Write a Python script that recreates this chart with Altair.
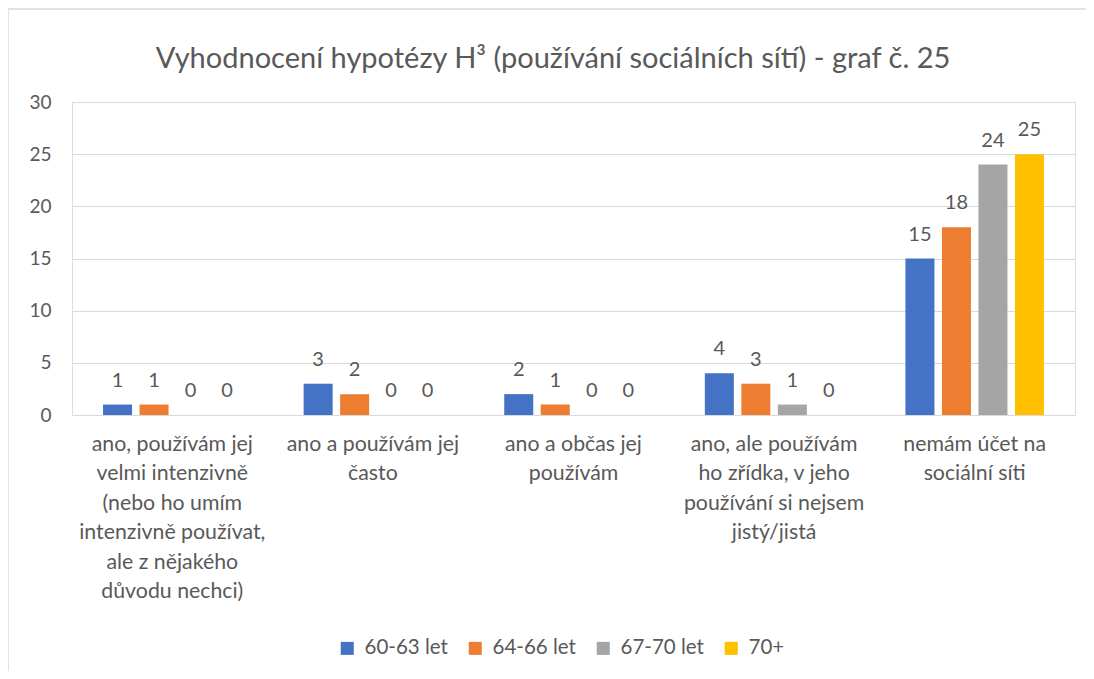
import altair as alt
import pandas as pd

title_text = "Vyhodnocení hypotézy H³ (používání sociálních sítí) - graf č. 25"
categories = [
    "ano, používám jej\nvelmi intenzivně\n(nebo ho umím\nintenzivně používat,\nale z nějakého\ndůvodu nechci)",
    "ano a používám jej\nčasto",
    "ano a občas jej\npoužívám",
    "ano, ale používám\nho zřídka, v jeho\npoužívání si nejsem\njistý/jistá",
    "nemám účet na\nsociální síti",
]
series = ["60-63 let", "64-66 let", "67-70 let", "70+"]
values_60_63 = [1, 3, 2, 4, 15]
values_64_66 = [1, 2, 1, 3, 18]
values_67_70 = [0, 0, 0, 1, 24]
values_70p = [0, 0, 0, 0, 25]
colors = ["#4472C4", "#ED7D31", "#A5A5A5", "#FFC000"]
y_ticks = [0, 5, 10, 15, 20, 25, 30]

rows = []
for s, vals in zip(series, [values_60_63, values_64_66, values_67_70, values_70p]):
    for c, v in zip(categories, vals):
        rows.append({"kategorie": c, "skupina": s, "hodnota": v})
df = pd.DataFrame(rows)

FONT = "Lato"
TXT = "#595959"
W, H = 1003, 313

x = alt.X("kategorie:N", sort=categories, title=None,
          scale=alt.Scale(paddingInner=0, paddingOuter=0),
          axis=alt.Axis(labelAngle=0, labelExpr="split(datum.label, '\\n')",
                        labelLineHeight=29.5, labelFontSize=21.3, labelColor=TXT,
                        labelFont=FONT, labelPadding=18, labelBaseline="top",
                        ticks=False, domain=False, labelLimit=300))
xo = alt.XOffset("skupina:N", sort=series,
                 scale=alt.Scale(paddingInner=0.205, paddingOuter=0.85))
y = alt.Y("hodnota:Q", title=None,
          scale=alt.Scale(domain=[0, 30], nice=False),
          axis=alt.Axis(values=y_ticks, ticks=False, domain=False, grid=True,
                        gridColor="#D9D9D9", gridWidth=1.2, labelFontSize=19,
                        labelColor=TXT, labelFont=FONT, labelPadding=21))
color = alt.Color("skupina:N", sort=series,
                  scale=alt.Scale(domain=series, range=colors),
                  legend=alt.Legend(title=None, orient="none", direction="horizontal",
                                    legendX=265, legendY=536, symbolType="square",
                                    symbolSize=170, symbolStrokeWidth=0,
                                    labelFontSize=20.5, labelColor=TXT, labelFont=FONT,
                                    labelOffset=7, columnPadding=17))

base = alt.Chart(df).encode(x=x, xOffset=xo, y=y)
bars = base.mark_bar().encode(color=color)
labels = base.mark_text(baseline="bottom", dy=-14, fontSize=20, color=TXT, font=FONT).encode(
    text=alt.Text("hodnota:Q"))

border = alt.Chart(pd.DataFrame({"b": [0]})).mark_rect(
    fill=None, stroke="#D9D9D9", strokeWidth=1.5).encode(
    x=alt.value(-64), x2=alt.value(1040), y=alt.value(-93), y2=alt.value(700))

title = alt.Chart(pd.DataFrame({"t": [title_text]})).mark_text(
    fontSize=29, font=FONT, color=TXT, align="center", baseline="alphabetic").encode(
    text="t:N", x=alt.value(481), y=alt.value(-34))

chart = alt.layer(border, title, bars, labels).properties(
    width=W, height=H,
    autosize=alt.AutoSizeParams(type="none"),
    padding={"left": 64, "top": 94, "right": 11, "bottom": 256},
).configure_view(stroke=None).configure(background="white")

chart.save("out.html", embed_options={"renderer": "svg", "actions": False})
